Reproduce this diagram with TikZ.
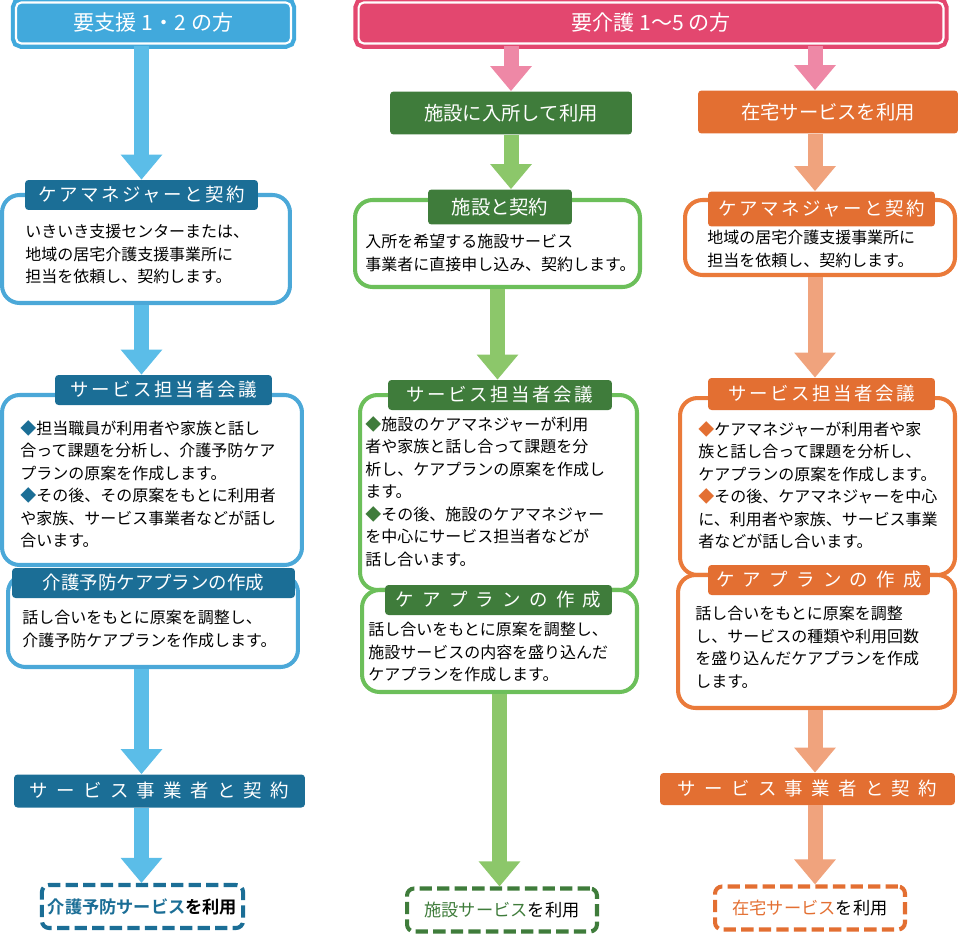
\documentclass[tikz,border=0pt]{standalone}
\usepackage{fontspec}
\setmainfont{Noto Sans CJK JP}[BoldFont={* Bold}]
\newfontfamily\wide[LetterSpace=14]{Noto Sans CJK JP}
\newfontfamily\wider[LetterSpace=45]{Noto Sans CJK JP}
\XeTeXlinebreaklocale "ja"
\usetikzlibrary{arrows.meta}
\definecolor{bhead}{HTML}{41A9DC}
\definecolor{btab}{HTML}{1B6E96}
\definecolor{barr}{HTML}{5BBDE8}
\definecolor{bline}{HTML}{4BA8D8}
\definecolor{phead}{HTML}{E3476F}
\definecolor{parr}{HTML}{EE88A6}
\definecolor{gtab}{HTML}{3F7C3B}
\definecolor{garr}{HTML}{8CC76A}
\definecolor{gline}{HTML}{6CBF5A}
\definecolor{otab}{HTML}{E36F32}
\definecolor{oarr}{HTML}{F0A37D}
\definecolor{oline}{HTML}{EA7A3A}
\tikzset{
  head/.style={fill=#1, draw=#1, double=white, double distance=1.2pt, line width=2.4pt,
    rounded corners=3pt, text=white, font=\fontsize{12}{14}\selectfont},
  tab/.style={fill=#1, rounded corners=2pt, text=white, inner sep=0pt,
    font=\wide\fontsize{10.5}{12}\selectfont},
  box/.style={draw=#1, line width=2.3pt, fill=white, rounded corners=0.35cm},
  body/.style={anchor=north west, align=left, inner sep=0pt,
    font=\fontsize{9.1}{12.8}\selectfont},
  dbox/.style={draw=#1, line width=2.3pt, dashed, dash pattern=on 7pt off 3pt,
    rounded corners=4pt, minimum width=3.8cm, minimum height=0.86cm,
    font=\fontsize{9.8}{12}\selectfont},
  flow/.style={draw=#1, line width=0.3cm, -{Triangle[width=0.8cm,length=0.5cm]}}
}
\begin{document}
\begin{tikzpicture}[x=0.02cm,y=-0.02cm]
\useasboundingbox (0,0) rectangle (960,936);
% left column
\node[head=bhead, minimum width=5.5cm, minimum height=0.82cm] (hl) at (153.5,23) {要支援 1・2 の方};
\node[box=bline, minimum width=5.76cm, minimum height=2.16cm] (l1) at (146,249) {};
\node[tab=btab, minimum width=4.66cm, minimum height=0.6cm] (l1t) at (141.5,195) {ケアマネジャーと契約};
\node[body] (l1x) at (25,224) {いきいき支援センターまたは、\\地域の居宅介護支援事業所に\\担当を依頼し、契約します。};
\node[box=bline, minimum width=6.0cm, minimum height=3.4cm] (l2) at (152,480) {};
\node[tab=btab, minimum width=4.34cm, minimum height=0.6cm] (l2t) at (163.5,390) {サービス担当者会議};
\node[body] (l2x) at (20,420) {\textcolor{btab}{◆}担当職員が利用者や家族と話し\\合って課題を分析し、介護予防ケア\\プランの原案を作成します。\\\textcolor{btab}{◆}その後、その原案をもとに利用者\\や家族、サービス事業者などが話し\\合います。};
\node[box=bline, minimum width=5.8cm, minimum height=1.84cm] (l3) at (153,621) {};
\node[tab=btab, minimum width=5.66cm, minimum height=0.6cm, font=\fontsize{10.5}{12}\selectfont] (l3t) at (153.5,583) {介護予防ケアプランの作成};
\node[body] (l3x) at (22,610) {話し合いをもとに原案を調整し、\\介護予防ケアプランを作成します。};
\node[tab=btab, minimum width=5.82cm, minimum height=0.66cm, font=\wider\fontsize{10.5}{12}\selectfont] (l4) at (159.5,791) {サービス事業者と契約};
\node[dbox=btab] (l5) at (142.5,906.5) {\textbf{\textcolor{btab}{介護予防サービス}を利用}};
\draw[flow=barr] (hl.south -| l1t.north) -- (l1t.north);
\draw[flow=barr] (l1.south -| l1t.north) -- (l2t.north -| l1t.north);
\draw[flow=barr] (l3.south -| l1t.north) -- (l4.north -| l1t.north);
\draw[flow=barr] (l4.south -| l1t.north) -- (l5.north -| l1t.north);
% right header
\node[head=phead, minimum width=11.7cm, minimum height=0.82cm] (hr) at (651,23) {要介護 1～5 の方};
% middle column
\node[tab=gtab, minimum width=4.84cm, minimum height=0.86cm, font=\fontsize{11}{13}\selectfont] (m0) at (511,113) {施設に入所して利用};
\node[box=gline, minimum width=5.7cm, minimum height=1.74cm] (m1) at (497.5,243.5) {};
\node[tab=gtab, minimum width=2.88cm, minimum height=0.7cm, font=\fontsize{11}{13}\selectfont] (m1t) at (500,207) {施設と契約};
\node[body] (m1x) at (365,234) {入所を希望する施設サービス\\事業者に直接申し込み、契約します。};
\node[box=gline, minimum width=5.54cm, minimum height=3.9cm] (m2) at (498.5,492.5) {};
\node[tab=gtab, minimum width=4.48cm, minimum height=0.6cm] (m2t) at (500,395) {サービス担当者会議};
\node[body] (m2x) at (365,416) {\textcolor{gtab}{◆}施設のケアマネジャーが利用\\者や家族と話し合って課題を分\\析し、ケアプランの原案を作成し\\ます。\\\textcolor{gtab}{◆}その後、施設のケアマネジャー\\を中心にサービス担当者などが\\話し合います。};
\node[box=gline, minimum width=5.5cm, minimum height=2.04cm] (m3) at (499.5,641) {};
\node[tab=gtab, minimum width=4.54cm, minimum height=0.6cm, font=\wider\fontsize{10.5}{12}\selectfont] (m3t) at (498.5,600) {ケアプランの作成};
\node[body] (m3x) at (368,622) {話し合いをもとに原案を調整し、\\施設サービスの内容を盛り込んだ\\ケアプランを作成します。};
\node[dbox=gtab] (m4) at (502,910) {\textcolor{gtab}{施設サービス}を利用};
\draw[flow=parr] (hr.south -| m0.north) -- (m0.north);
\draw[flow=garr] (m0.south) -- (m1t.north -| m0.south);
\draw[flow=garr] (m1.south) -- (m2t.north -| m1.south);
\draw[flow=garr] (m3.south) -- (m4.north -| m3.south);
% right column
\node[tab=otab, minimum width=5.2cm, minimum height=0.86cm, font=\fontsize{11}{13}\selectfont] (r0) at (828,112) {在宅サービスを利用};
\node[box=oline, minimum width=5.4cm, minimum height=1.5cm] (r1) at (820,237.5) {};
\node[tab=otab, minimum width=4.54cm, minimum height=0.7cm] (r1t) at (821.5,209) {ケアマネジャーと契約};
\node[body] (r1x) at (707,230) {地域の居宅介護支援事業所に\\担当を依頼し、契約します。};
\node[box=oline, minimum width=5.5cm, minimum height=3.54cm] (r2) at (817.5,486.5) {};
\node[tab=otab, minimum width=4.54cm, minimum height=0.64cm] (r2t) at (821.5,394) {サービス担当者会議};
\node[body] (r2x) at (698,421) {\textcolor{otab}{◆}ケアマネジャーが利用者や家\\族と話し合って課題を分析し、\\ケアプランの原案を作成します。\\\textcolor{otab}{◆}その後、ケアマネジャーを中心\\に、利用者や家族、サービス事業\\者などが話し合います。};
\node[box=oline, minimum width=5.54cm, minimum height=2.66cm] (r3) at (816.5,641.5) {};
\node[tab=otab, minimum width=4.44cm, minimum height=0.6cm, font=\wider\fontsize{10.5}{12}\selectfont] (r3t) at (819,580) {ケアプランの作成};
\node[body] (r3x) at (695,606) {話し合いをもとに原案を調整\\し、サービスの種類や利用回数\\を盛り込んだケアプランを作成\\します。};
\node[tab=otab, minimum width=5.9cm, minimum height=0.64cm, font=\wider\fontsize{10.5}{12}\selectfont] (r4) at (807.5,789) {サービス事業者と契約};
\node[dbox=otab] (r5) at (810,908) {\textcolor{otab}{在宅サービス}を利用};
\coordinate (rx) at (815,0);
\draw[flow=parr] (hr.south -| rx) -- (r0.north -| rx);
\draw[flow=oarr] (r0.south -| rx) -- (r1t.north -| rx);
\draw[flow=oarr] (r1.south -| rx) -- (r2t.north -| rx);
\draw[flow=oarr] (r3.south -| rx) -- (r4.north -| rx);
\draw[flow=oarr] (r4.south -| rx) -- (r5.north -| rx);
\end{tikzpicture}
\end{document}
